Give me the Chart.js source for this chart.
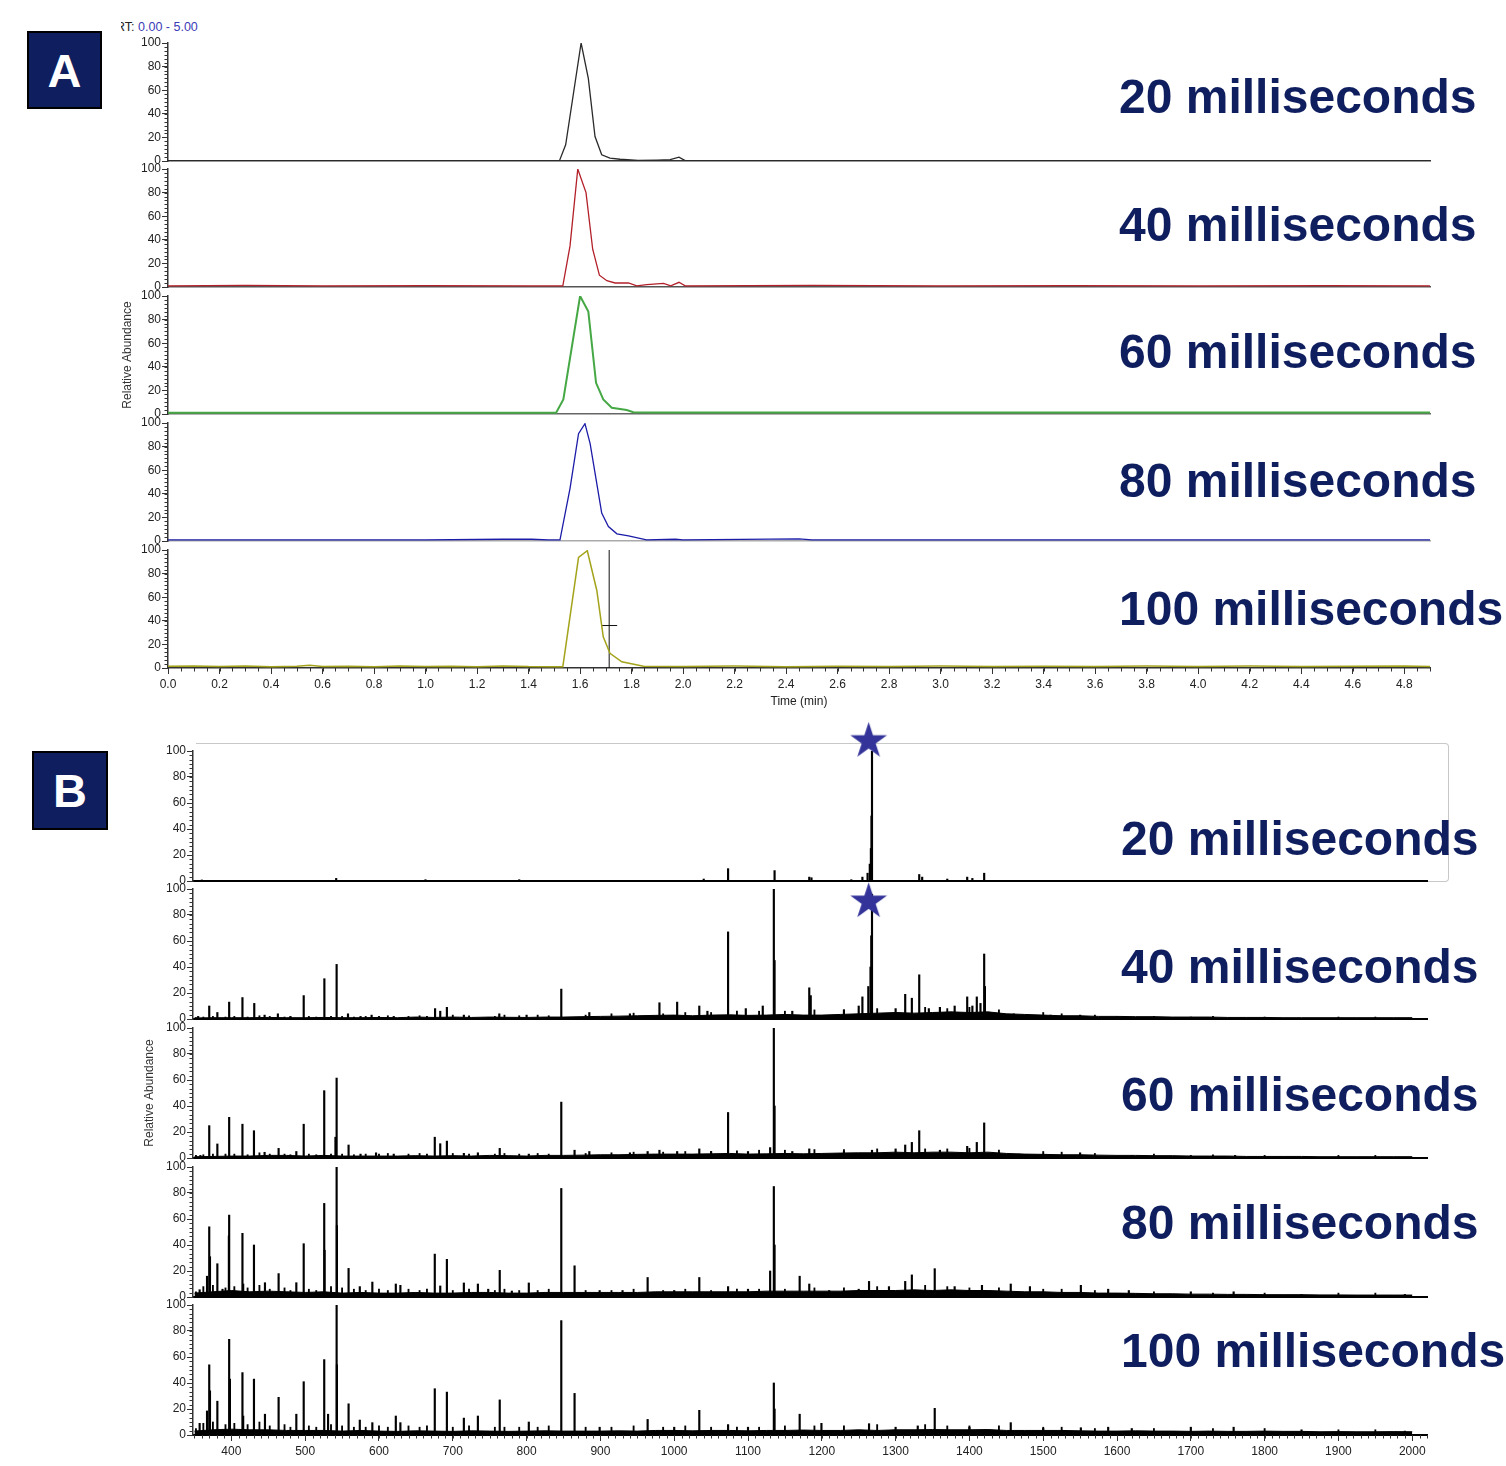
<!DOCTYPE html>
<html><head><meta charset="utf-8">
<script src="https://cdn.jsdelivr.net/npm/chart.js@4.4.1/dist/chart.umd.min.js"></script>
<style>
body{margin:0;background:#fff;width:1506px;height:1466px;position:relative;overflow:hidden;font-family:'Liberation Sans',Arial,Helvetica,sans-serif;}
.lab{position:absolute;font-weight:bold;font-size:48px;line-height:48px;color:#0f1e5f;white-space:nowrap;}
.box{position:absolute;background:#0f1e5f;border:2px solid #000;box-sizing:border-box;color:#fff;font-weight:bold;font-size:47px;display:flex;align-items:center;justify-content:center;}
.rt{position:absolute;left:121px;top:19px;overflow:hidden;width:120px;height:16px;font-size:12.5px;line-height:16px;white-space:nowrap;}
.frame{position:absolute;left:196px;top:743px;width:1252px;height:137px;border:1px solid #c8c8c8;border-left:none;border-radius:0 4px 4px 0;}
</style></head><body>
<div class="frame"></div>
<div class="rt"><span style="margin-left:-5px;color:#222">RT:</span> <span style="color:#3b3bb8">0.00 - 5.00</span></div>
<script>
// ================= DATA =================
// Panel A : chromatograms (retention time in min, relative abundance)
const rt20  = [0.00, 1.52, 1.544, 1.604, 1.632, 1.658, 1.684, 1.716, 1.755, 1.825, 1.90, 1.95, 1.984, 2.008, 4.90];
const ab20  = [0.3, 0.3, 13.7, 100, 70, 20.7, 5.3, 2.5, 1.5, 0.5, 0.8, 1.2, 3.3, 0.3, 0.3];
const rt40  = [0, 0.3, 0.6, 1.0, 1.4, 1.533, 1.561, 1.591, 1.623, 1.649, 1.675, 1.704, 1.736, 1.788, 1.82, 1.859, 1.924, 1.952, 1.984, 2.008, 2.5, 3.0, 3.5, 4.0, 4.5, 4.9];
const ab40  = [1, 1.3, 1, 1.2, 1, 1, 34.8, 100, 80, 32, 10, 5.3, 3.4, 3.4, 1, 2, 3, 1, 4, 1, 1.3, 1, 1.2, 1, 1.2, 1];
const rt60  = [0, 1.507, 1.535, 1.60, 1.632, 1.662, 1.69, 1.723, 1.781, 1.807, 1.852, 4.9];
const ab60  = [1, 1, 12.4, 100, 86.8, 26.4, 12.4, 5.3, 3.4, 1.5, 1.2, 1.2];
const rt80  = [0, 0.5, 1.0, 1.3, 1.412, 1.477, 1.522, 1.561, 1.594, 1.619, 1.639, 1.684, 1.71, 1.743, 1.788, 1.858, 1.97, 2.0, 2.45, 2.5, 4.9];
const ab80  = [1, 1, 1, 1.5, 1.5, 1, 1, 44.6, 91, 99.4, 82.6, 23.6, 12.3, 6.1, 4.4, 1, 1.5, 1, 1.8, 1, 1];
const rt100 = [0, 0.1, 0.2, 0.3, 0.4, 0.5, 0.55, 0.6, 0.7, 0.8, 0.9, 1.0, 1.1, 1.2, 1.3, 1.4, 1.5, 1.533, 1.594, 1.628, 1.665, 1.69, 1.716, 1.762, 1.846, 2.0, 2.2, 2.4, 2.6, 2.8, 3.0, 3.2, 3.4, 3.6, 3.8, 4.0, 4.2, 4.4, 4.6, 4.8, 4.9];
const ab100 = [1.5, 1.8, 1.2, 1.6, 1.1, 1.5, 2.3, 1.2, 1.5, 1.1, 1.6, 1.3, 1.5, 1.1, 1.8, 1.2, 1.1, 1.1, 93.8, 99.4, 65.7, 26.4, 12.4, 5.3, 1.5, 1.3, 1.6, 1.1, 1.5, 1.2, 1.6, 1.2, 1.5, 1.2, 1.6, 1.2, 1.6, 1.2, 1.5, 1.7, 1.2];
const cursorRt = [1.713, 1.713];
const cursorAb = [0, 100];
const crossRt  = [1.682, 1.744];
const crossAb  = [36, 36];

// Panel B : mass spectra (m/z, relative abundance)
const mz20  = [360, 542, 663, 790, 1040, 1073, 1136, 1183, 1186, 1240, 1255, 1262, 1265, 1266.5, 1267.3, 1268, 1332, 1336, 1370, 1397, 1404, 1420];
const in20  = [0.8, 2, 1, 1, 1.5, 9.5, 8, 3, 2.5, 1, 3, 6, 13, 25, 50, 100, 5, 3, 1.5, 3, 2, 6];
const mz40  = [355, 370, 381, 397, 415, 431, 445, 463, 480, 498, 526, 542.6, 558, 575, 590, 620, 676, 683, 692, 715, 763, 800, 847, 885, 940, 980, 1004, 1034, 1045, 1073, 1097, 1120, 1135, 1136, 1160, 1183, 1185, 1230, 1250, 1255, 1263, 1266, 1267, 1268, 1300, 1313, 1322, 1332, 1345, 1360, 1380, 1397, 1404, 1410, 1415, 1420, 1421, 1440, 1460, 1480, 1510, 1550, 1600, 1650, 1700];
const in40  = [2, 10, 5, 13, 16.5, 12, 3, 4, 2, 18, 31, 42, 4, 2, 3, 2, 8, 6, 9, 3, 4, 3, 23, 5, 4, 12.5, 13, 10, 6, 67, 8, 10, 100, 45, 6, 24, 18, 7, 10, 17, 25, 40, 64, 96, 8, 19, 16, 34, 8, 9, 10, 17, 10, 17, 12, 50, 25, 4, 4, 3, 3, 3, 2, 1.5, 1.5];
const mz60  = [358, 370, 381, 397, 415, 430.6, 445, 464, 488, 498, 525.8, 541, 542.6, 558.8, 575, 596, 620, 675.6, 683, 692, 715, 734, 763.6, 803, 847, 865, 885, 940, 964, 980, 1004, 1034, 1050, 1073, 1100, 1130, 1135, 1136, 1160, 1183, 1230, 1268, 1300, 1313, 1322, 1332, 1360, 1397, 1410, 1420, 1440, 1467, 1500, 1550, 1620, 1700, 1760];
const in60  = [2, 24.9, 10.8, 31.3, 26, 21, 4.4, 7.4, 5, 26, 51.8, 16, 61.5, 10, 3, 4, 3, 16, 11, 13, 3.6, 4, 7.4, 3, 43, 6, 5, 4, 5, 6, 5, 7, 5, 35, 5, 8, 100, 40, 5, 7, 5, 6, 7, 10, 12, 21, 6, 9, 12, 27, 4, 3, 3, 4, 2, 2, 2];
const mz80  = [357, 367, 370, 371, 381, 388, 396.6, 397, 415, 416, 430.6, 445.5, 464, 488, 498, 525.8, 526.3, 542.6, 543, 558.8, 574, 591, 622.8, 629, 675.6, 683, 692, 715, 734, 748, 763.6, 780, 803, 847, 865, 899, 930, 964, 1000, 1034, 1073, 1100, 1130, 1135, 1136, 1170, 1183, 1210, 1250, 1264, 1291, 1313, 1322, 1353, 1380, 1417, 1456, 1482, 1551, 1588, 1616, 1700, 1758, 1850, 1990];
const in80  = [5.6, 16, 54, 31, 25.6, 6, 47, 63, 49, 10, 40, 11, 18, 11, 41, 72, 36, 100, 55, 22, 8, 11.5, 10, 9, 33, 8.5, 29, 10.8, 10, 6, 20.5, 4.6, 10.8, 83.5, 24, 5, 5, 15, 5, 15, 8, 6, 20, 85, 40, 16, 10, 5, 6, 12, 8, 12, 17, 21.8, 8, 9, 10, 8, 9, 6, 5, 4, 4, 2, 2];
const mz100 = [357, 367, 370, 371, 381, 397, 398, 415, 416, 430.6, 445.5, 464, 488, 498, 525.8, 531, 542.6, 543, 558.8, 574, 591, 622.8, 629, 675.6, 692, 715, 734, 763.6, 803, 847, 865, 899, 964, 1000, 1034, 1073, 1100, 1135, 1136, 1170, 1199.5, 1264, 1300, 1330, 1353, 1400, 1456, 1500, 1551, 1588, 1620, 1700, 1758, 1850, 1990];
const in100 = [9, 18.5, 54, 34, 26, 73.6, 43, 48, 14.6, 43, 16, 29, 16, 41, 58, 16, 100, 54, 24, 11.5, 9.5, 14.6, 9.5, 35.6, 33, 13, 14.6, 27, 10, 88, 32, 6, 12, 6, 19, 8, 6, 40, 20, 16, 9, 8.7, 6, 7, 20.5, 6, 9.5, 5, 5.6, 6, 5, 6, 6, 4, 3];

// small "grass" peaks (shared m/z positions, per-spectrum heights)
const grassMz  = [352, 362, 375, 392, 404, 422, 438, 452, 472, 480, 505, 515, 535, 550, 566, 582, 600, 612, 640, 655, 665, 700, 722, 757, 770, 790, 815, 830, 880, 915, 945, 985, 1015, 1050, 1085, 1115, 1150, 1190, 1230, 1275, 1340, 1370, 1400, 1440, 1500, 1525, 1570, 1650, 1730, 1800, 1900, 1950];
const grass40  = [1, 1.5, 2, 1.5, 2, 1.5, 2.5, 2, 1.5, 1.5, 2, 1.5, 2, 2, 1.5, 2, 2, 2.5, 2, 2.5, 2, 3, 2.5, 2, 3, 2.5, 3, 2.5, 3, 4, 4.5, 4, 5, 5, 6, 6, 6, 7, 7, 8, 9, 8, 9, 7, 5, 4, 3, 2, 2, 1.5, 1.5, 1.5];
const grass60  = [2, 2.5, 3, 3, 3, 2.5, 4, 3, 3, 2.5, 3, 2.5, 3, 3, 2.5, 3, 3, 3.5, 3, 3.5, 3, 3.5, 3, 3, 3.5, 3, 3.5, 3, 3.5, 4, 4.5, 4.5, 5, 5, 5.5, 6, 6, 6.5, 6.5, 7, 7, 7, 7.5, 6, 5, 4.5, 3.5, 3, 2.5, 2, 2, 2];
const grass80  = [4, 8, 9, 7, 8, 7, 9, 6, 7, 5, 6, 5, 8, 7, 6, 5, 6, 5, 6, 5, 6, 5, 6, 5, 6, 5, 5, 6, 5, 5, 6, 5, 6, 5, 6, 6, 6, 7, 7, 8, 9, 8, 7, 7, 6, 6, 5, 4, 3, 3, 3, 3];
const grass100 = [5, 9, 10, 8, 9, 8, 10, 7, 8, 6, 7, 6, 8, 7, 6, 6, 7, 6, 7, 6, 7, 6, 7, 6, 6, 6, 6, 7, 6, 6, 7, 6, 7, 6, 6, 6, 7, 7, 7, 8, 8, 7, 7, 7, 6, 6, 5, 5, 5, 5, 4, 4];

// baseline level of each spectrum
const floorMz  = [350, 375, 400, 425, 450, 475, 500, 525, 550, 575, 600, 625, 650, 675, 700, 725, 750, 775, 800, 825, 850, 875, 900, 925, 950, 975, 1000, 1025, 1050, 1075, 1100, 1125, 1150, 1175, 1200, 1225, 1250, 1275, 1300, 1325, 1350, 1375, 1400, 1425, 1450, 1475, 1500, 1525, 1550, 1575, 1600, 1625, 1650, 1675, 1700, 1725, 1750, 1775, 1800, 1825, 1850, 1875, 1900, 1925, 1950, 1975, 2000];
const floor40  = [0.8, 1, 1, 1, 1.2, 1, 1, 1.2, 1, 1, 1.2, 1, 1.5, 1.2, 1.5, 1.2, 1.5, 1.3, 1.2, 1.5, 1.5, 1.8, 2, 2.2, 2.5, 2.8, 3, 2.5, 3, 3.2, 2.8, 3, 3.5, 3, 3, 3.5, 4, 4.5, 5, 4.5, 5, 5.5, 5, 5.5, 4, 3.5, 3, 2.5, 2.5, 2, 2, 1.8, 1.8, 1.5, 1.5, 1.5, 1.2, 1.2, 1.2, 1, 1, 1, 1, 1, 1, 1, 1];
const floor60  = [1, 1.2, 1.5, 1.5, 2, 2, 1.5, 2, 1.5, 1.5, 1.5, 1.5, 1.8, 1.5, 1.8, 1.5, 2, 1.8, 1.5, 2, 2, 2.2, 2.5, 2.5, 2.8, 3, 3, 3, 3.2, 3.5, 3, 3.2, 3.5, 3.2, 3.5, 3.8, 4, 4, 4.5, 4, 4.5, 4.5, 4, 4.5, 3.5, 3, 2.8, 2.5, 2.5, 2.2, 2, 2, 1.8, 1.8, 1.5, 1.5, 1.5, 1.2, 1.2, 1.2, 1.2, 1, 1, 1, 1, 1, 1];
const floor80  = [3, 4, 5, 4, 4.5, 4, 3.5, 4, 3, 3.5, 3, 3, 3.5, 3, 3, 3.5, 3.5, 3, 3, 3.5, 3.5, 3.5, 3.5, 3.5, 3.5, 4, 4, 4, 4, 4, 4, 4.5, 4.5, 4.5, 4.5, 4.5, 5, 5, 5, 5.5, 5, 5.5, 5, 5, 4.5, 4, 4, 3.5, 3.5, 3, 3, 2.8, 2.5, 2.5, 2.2, 2.2, 2, 2, 1.8, 1.8, 1.8, 1.6, 1.6, 1.5, 1.5, 1.5, 1.5];
const floor100 = [3, 4, 4.5, 4, 4, 3.5, 3.5, 3.5, 3, 3.5, 3, 2.8, 3.2, 3, 2.8, 3.2, 3, 2.8, 3, 3.2, 3, 3, 3, 3.2, 3, 3.5, 3.5, 3.2, 3.5, 3.5, 3.2, 3.5, 3.5, 3.8, 3.5, 3.5, 4, 3.5, 4, 4, 4.2, 4, 4, 4.2, 3.5, 3.5, 3.5, 3.5, 3.2, 3, 3, 3.2, 3, 3, 2.8, 3, 2.8, 2.8, 3, 2.8, 2.8, 2.5, 2.6, 2.5, 2.5, 2.6, 2.5];

const starMz   = [1263.5];
const starAb20 = [107.5];
const starAb40 = [90.3];

const rowLabels = ['20 milliseconds', '40 milliseconds', '60 milliseconds', '80 milliseconds', '100 milliseconds'];
const yTitle = 'Relative Abundance';
const xTitleA = 'Time (min)';

// ================= DRAWING =================
Chart.defaults.font.family = "'Liberation Sans', Arial, Helvetica, sans-serif";
Chart.defaults.font.size = 12;
Chart.defaults.color = '#222';

const minorTicks = {
  id: 'minorTicks',
  afterDraw(chart, args, o) {
    const ctx = chart.ctx;
    ctx.save();
    ctx.strokeStyle = '#333';
    ctx.lineWidth = 1;
    const ys = chart.scales.y;
    if (o.yStep) {
      for (let k = 0; ; k++) {
        const v = ys.min + k * o.yStep;
        if (v > ys.max + 1e-6) break;
        const p = Math.round(ys.getPixelForValue(v)) + 0.5;
        ctx.beginPath(); ctx.moveTo(ys.right - 3.5, p); ctx.lineTo(ys.right, p); ctx.stroke();
      }
    }
    const xs = chart.scales.x;
    if (o.xStep) {
      const start = Math.ceil(xs.min / o.xStep - 1e-6);
      for (let k = start; ; k++) {
        const v = k * o.xStep;
        if (v > xs.max + 1e-6) break;
        const p = Math.round(xs.getPixelForValue(v)) + 0.5;
        ctx.beginPath(); ctx.moveTo(p, xs.top); ctx.lineTo(p, xs.top + 3.5); ctx.stroke();
      }
    }
    ctx.restore();
  }
};

function xy(xs, ys) { return xs.map((x, i) => ({ x: x, y: ys[i] })); }

function makeStar(R, color) {
  const c = document.createElement('canvas');
  const s = Math.ceil(R * 2 + 2);
  c.width = s; c.height = s;
  const g = c.getContext('2d');
  g.fillStyle = color;
  g.beginPath();
  for (let i = 0; i < 10; i++) {
    const r = i % 2 ? R * 0.382 : R;
    const a = -Math.PI / 2 + i * Math.PI / 5;
    g.lineTo(s / 2 + r * Math.cos(a), s / 2 + r * Math.sin(a));
  }
  g.closePath(); g.fill();
  return c;
}
const starImg = makeStar(19.3, '#333399');

function buildRow(p) {
  const cv = document.createElement('canvas');
  const W = p.W;
  const H = p.padTop + p.h + (p.last ? p.axisH : p.padBottom);
  cv.width = W; cv.height = H;
  cv.style.cssText = 'position:absolute;left:0;top:' + (p.top - p.padTop) + 'px;width:' + W + 'px;height:' + H + 'px;';
  document.body.appendChild(cv);
  const xScale = {
    type: 'linear', min: p.xmin, max: p.xmax, offset: false,
    afterFit(s) { s.height = p.last ? p.axisH : 0; },
    border: { display: true, color: p.bottomColor, width: p.bottomWidth },
    grid: { display: true, drawOnChartArea: false, drawTicks: p.last, tickLength: 6, tickColor: '#333', offset: false },
    ticks: p.last ? {
      display: true, stepSize: p.xstep, includeBounds: false, autoSkip: false, maxRotation: 0, padding: 3,
      color: '#222', font: { size: 12 }, callback: p.xfmt
    } : { display: false },
    title: p.xTitle ? { display: true, text: p.xTitle, padding: { top: 0, bottom: 0 }, color: '#222', font: { size: 12 } } : { display: false }
  };
  const yScale = {
    type: 'linear', min: 0, max: 100, position: 'left',
    afterFit(s) { s.width = p.plotLeft; },
    border: { display: true, color: '#333', width: 1.5 },
    grid: { drawOnChartArea: false, drawTicks: true, tickLength: 6, tickColor: '#333' },
    ticks: { stepSize: 20, autoSkip: false, padding: 1, color: '#222', font: { size: 12 } },
    title: p.yTitle ? { display: true, text: p.yTitle, padding: { top: p.yTitlePad, bottom: 0 }, color: '#333', font: { size: 12 } } : { display: false }
  };
  return new Chart(cv.getContext('2d'), {
    type: p.type,
    data: { datasets: p.datasets },
    options: {
      responsive: false, animation: false, events: [], devicePixelRatio: 1,
      layout: { padding: { left: 0, right: W - p.plotRight, top: p.padTop, bottom: p.last ? 0 : p.padBottom } },
      plugins: { legend: { display: false }, tooltip: { enabled: false },
        minorTicks: { yStep: 20 / 6, xStep: p.last ? p.xminor : 0 } },
      scales: { x: xScale, y: yScale }
    },
    plugins: [minorTicks]
  });
}

function lineDs(xs, ys, color, width) {
  return { type: 'line', data: xy(xs, ys), borderColor: color, borderWidth: width, pointRadius: 0, tension: 0, fill: false };
}

// ---------- Panel A ----------
const aTops = [43, 169, 296, 423, 550];
const aSeries = [[rt20, ab20, '#2a2a2a', 1.3], [rt40, ab40, '#b3202a', 1.3], [rt60, ab60, '#45a845', 2], [rt80, ab80, '#1c1ca8', 1.3], [rt100, ab100, '#a3a31c', 1.5]];
const aBottom = ['#333', '#555', '#666', '#aaa', '#333'];
aSeries.forEach((s, i) => {
  const ds = [lineDs(s[0], s[1], s[2], s[3])];
  if (i === 4) {
    ds.push(lineDs(cursorRt, cursorAb, '#111', 1));
    ds.push(lineDs(crossRt, crossAb, '#111', 1));
  }
  buildRow({
    type: 'line', W: 1440, top: aTops[i], h: 118, padTop: 10, padBottom: 10, axisH: 41, last: i === 4,
    plotLeft: 168, plotRight: 1430, xmin: 0, xmax: 4.9, xstep: 0.2, xminor: 0.05,
    xfmt: v => v.toFixed(1), xTitle: i === 4 ? xTitleA : null,
    yTitle: i === 2 ? yTitle : null, yTitlePad: 120.8,
    bottomColor: aBottom[i], bottomWidth: 1.5, datasets: ds
  });
});

// ---------- Panel B ----------
const bTops = [751, 889, 1028, 1167, 1305];
const bPeaks = [[mz20, in20], [mz40, in40], [mz60, in60], [mz80, in80], [mz100, in100]];
const bGrass = [null, grass40, grass60, grass80, grass100];
const bFloors = [null, floor40, floor60, floor80, floor100];
bPeaks.forEach((s, i) => {
  const ds = [];
  if (i === 0) ds.push({ type: 'line', data: xy(starMz, starAb20), showLine: false, pointStyle: starImg, pointRadius: 19, clip: false });
  if (i === 1) ds.push({ type: 'line', data: xy(starMz, starAb40), showLine: false, pointStyle: starImg, pointRadius: 19, clip: false });
  ds.push({ type: 'bar', data: xy(s[0], s[1]), backgroundColor: '#000', borderWidth: 0, barThickness: 1.5, grouped: false });
  if (bGrass[i]) ds.push({ type: 'bar', data: xy(grassMz, bGrass[i]), backgroundColor: '#000', borderWidth: 0, barThickness: 1.2, grouped: false });
  if (bFloors[i]) ds.push({ type: 'line', data: xy(floorMz, bFloors[i]), borderColor: '#000', backgroundColor: '#000', borderWidth: 1, pointRadius: 0, tension: 0, fill: 'origin' });
  buildRow({
    type: 'bar', W: 1452, top: bTops[i], h: 130, padTop: i === 0 ? 34 : 24, padBottom: 24, axisH: 30, last: i === 4,
    plotLeft: 193, plotRight: 1427, xmin: 348, xmax: 2020, xstep: 100, xminor: 10,
    xfmt: v => String(v), xTitle: null,
    yTitle: i === 2 ? yTitle : null, yTitlePad: 142.8,
    bottomColor: '#000', bottomWidth: 2, datasets: ds
  });
});

// ---------- text labels ----------
const aBase = [114, 242, 369, 498, 626];
const bBase = [856, 984, 1112, 1240, 1368];
function addLabel(txt, left, base) {
  const d = document.createElement('div');
  d.className = 'lab';
  d.textContent = txt;
  d.style.left = left + 'px';
  d.style.top = (base - 40.6) + 'px';
  document.body.appendChild(d);
}
rowLabels.forEach((t, i) => { addLabel(t, 1119, aBase[i]); addLabel(t, 1121, bBase[i]); });
function addBox(txt, l, t, w, h) {
  const d = document.createElement('div');
  d.className = 'box';
  d.textContent = txt;
  d.style.cssText = 'left:' + l + 'px;top:' + t + 'px;width:' + w + 'px;height:' + h + 'px;';
  document.body.appendChild(d);
}
addBox('A', 27, 31, 75, 78);
addBox('B', 32, 751, 76, 79);
</script>
</body></html>
